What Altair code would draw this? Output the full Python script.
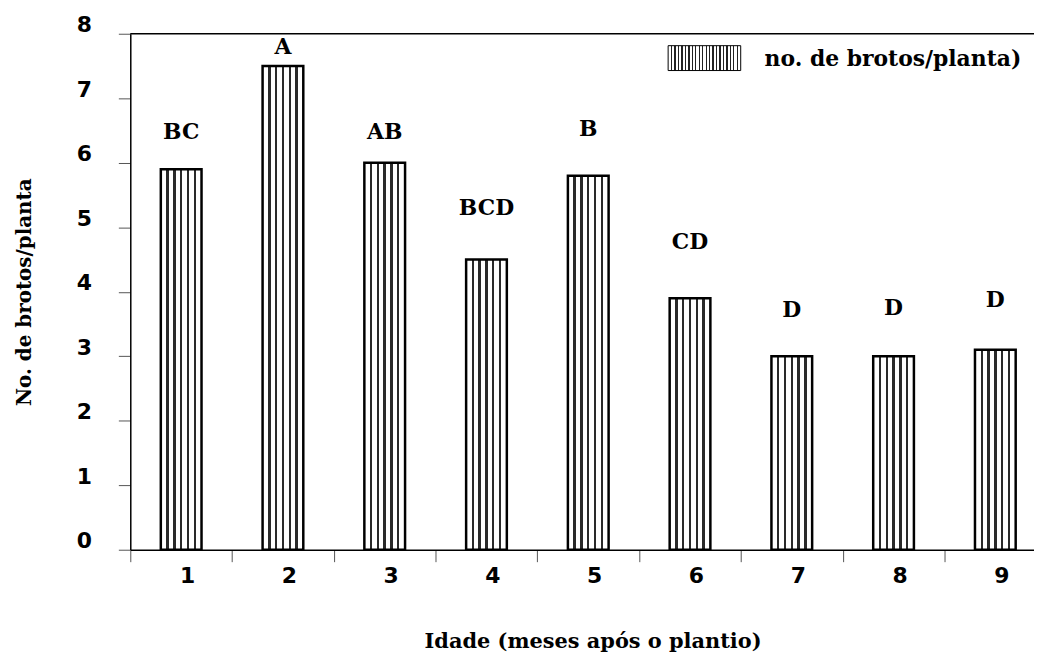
import altair as alt
import pandas as pd

# ---- data ----
months = [1, 2, 3, 4, 5, 6, 7, 8, 9]
brotos = [5.9, 7.5, 6.0, 4.5, 5.8, 3.9, 3.0, 3.0, 3.1]
letters = ["BC", "A", "AB", "BCD", "B", "CD", "D", "D", "D"]
letter_y = [6.47, 7.8, 6.47, 5.29, 6.52, 4.77, 3.71, 3.75, 3.87]
y_ticks = [0, 1, 2, 3, 4, 5, 6, 7, 8]
x_ticks = [0.5, 1, 1.5, 2, 2.5, 3, 3.5, 4, 4.5, 5, 5.5, 6, 6.5, 7, 7.5, 8, 8.5, 9]
legend_label = "no. de brotos/planta)"
x_title = "Idade (meses após o plantio)"
y_title = "No. de brotos/planta"

df = pd.DataFrame({"mes": months, "brotos": brotos, "letra": letters, "ly": letter_y})
leg = pd.DataFrame({"label": [legend_label]})

W, H = 909, 519
SERIF = "DejaVu Serif"
SANS = "DejaVu Sans"


def stripes(n, w, color):
    stops = [{"offset": 0, "color": "white"}]
    for i in range(1, n + 1):
        f = i / (n + 1)
        stops += [
            {"offset": f - w / 2, "color": "white"},
            {"offset": f - w / 2, "color": color},
            {"offset": f + w / 2, "color": color},
            {"offset": f + w / 2, "color": "white"},
        ]
    stops.append({"offset": 1, "color": "white"})
    return {"gradient": "linear", "x1": 0, "x2": 1, "y1": 0, "y2": 0, "stops": stops}


xscale = alt.Scale(domain=[0.5, 9.38], nice=False, zero=False)
yscale = alt.Scale(domain=[0, 8], nice=False)

xaxis = alt.Axis(
    values=x_ticks,
    labelExpr="datum.value % 1 === 0 ? datum.value : ''",
    tickOpacity={"condition": {"test": "datum.value % 1 !== 0", "value": 1}, "value": 0},
    tickSize=12,
    tickColor="#555",
    labelFont=SANS,
    labelFontWeight="bold",
    labelFontSize=22,
    labelColor="black",
    labelPadding=4,
    labelOffset=6,
    labelFlush=False,
    domainColor="black",
    domainWidth=1.5,
    grid=False,
    title=x_title,
    titleFont=SERIF,
    titleFontWeight="bold",
    titleFontSize=21,
    titleColor="black",
    titleX=465,
    titleY=92,
    titleAlign="center",
    titleBaseline="middle",
)

yaxis = alt.Axis(
    values=y_ticks,
    format="d",
    tickSize=12,
    tickColor="#555",
    labelFont=SANS,
    labelFontWeight="bold",
    labelFontSize=22,
    labelColor="black",
    labelPadding=27,
    labelOffset=-9,
    labelFlush=False,
    domainColor="black",
    domainWidth=1.5,
    grid=False,
    title=y_title,
    titleFont=SERIF,
    titleFontWeight="bold",
    titleFontSize=20,
    titleColor="black",
    titleX=-106,
    titleY=H / 2,
    titleAngle=-90,
    titleAlign="center",
    titleBaseline="middle",
)

base = alt.Chart(df)

bars = base.transform_calculate(
    x_lo="datum.mes - 0.2", x_hi="datum.mes + 0.2"
).mark_bar(
    fill=stripes(5, 0.06, "#2a2a2a"), stroke="black", strokeWidth=2.5
).encode(
    x=alt.X("x_lo:Q", scale=xscale, axis=xaxis),
    x2="x_hi:Q",
    y=alt.Y("brotos:Q", scale=yscale, axis=yaxis),
    y2=alt.datum(0),
)

text = base.mark_text(
    font=SERIF, fontWeight="bold", fontSize=22, baseline="middle", align="center", color="black"
).encode(
    x=alt.X("mes:Q", scale=xscale),
    y=alt.Y("ly:Q", scale=yscale),
    text="letra:N",
)

top_line = alt.Chart(leg).mark_rule(color="black", strokeWidth=1.5).encode(
    x=alt.value(0), x2=alt.value(W), y=alt.value(0)
)

leg_rect = alt.Chart(leg).mark_rect(
    fill=stripes(20, 0.018, "#222222"), stroke="black", strokeWidth=1
).encode(
    x=alt.value(541), x2=alt.value(614), y=alt.value(12), y2=alt.value(37)
)

leg_text = alt.Chart(leg).mark_text(
    font=SERIF, fontWeight="bold", fontSize=22, align="left", baseline="middle", color="black"
).encode(
    x=alt.value(638), y=alt.value(25), text="label:N"
)

chart = alt.layer(bars, text, top_line, leg_rect, leg_text).properties(
    width=W,
    height=H,
    padding={"left": 123, "top": 24, "right": 0, "bottom": 106},
    autosize=alt.AutoSizeParams(type="none"),
    background="white",
).configure_view(stroke=None)

chart.save("out.html", embed_options={"renderer": "svg", "actions": False})
